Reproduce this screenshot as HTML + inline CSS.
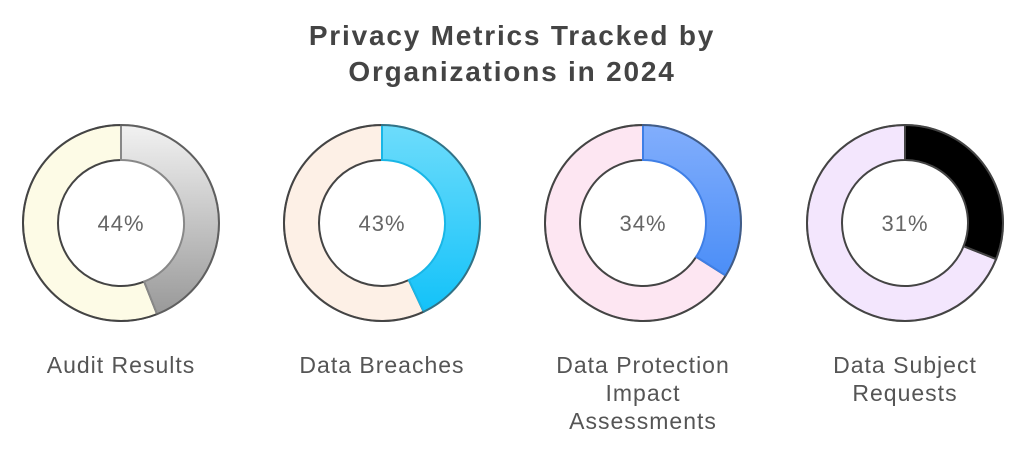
<!DOCTYPE html>
<html><head><style>
body{margin:0;width:1024px;height:453px;background:#fff;overflow:hidden;font-family:"Liberation Sans",sans-serif}
</style></head><body>
<svg id="s" width="1024" height="453" xmlns="http://www.w3.org/2000/svg">
<defs>
<linearGradient id="g0" x1="0" y1="0" x2="0" y2="1"><stop offset="0" stop-color="#f2f2f2"/><stop offset="1" stop-color="#999"/></linearGradient>
<linearGradient id="g1" x1="0" y1="0" x2="0" y2="1"><stop offset="0" stop-color="#6ddcfb"/><stop offset="1" stop-color="#13c2f9"/></linearGradient>
<linearGradient id="g2" x1="0" y1="0" x2="0" y2="1"><stop offset="0" stop-color="#82aefc"/><stop offset="1" stop-color="#4b8ef7"/></linearGradient>
<linearGradient id="g3" x1="0" y1="0" x2="0" y2="1"><stop offset="0" stop-color="#000"/><stop offset="1" stop-color="#000"/></linearGradient>
</defs>
<g font-size="28" font-weight="bold" fill="#444" text-anchor="middle" letter-spacing="1.8">
<text x="512" y="45">Privacy Metrics Tracked by</text>
<text x="512" y="81">Organizations in 2024</text>
</g>
<g id="c"></g>
<g font-size="23" fill="#555" text-anchor="middle" letter-spacing="1">
<text x="121" y="373">Audit Results</text>
<text x="382" y="373">Data Breaches</text>
<text x="643" y="373">Data Protection</text>
<text x="643" y="401">Impact</text>
<text x="643" y="429">Assessments</text>
<text x="905" y="373">Data Subject</text>
<text x="905" y="401">Requests</text>
</g>
<g font-size="22" fill="#666" text-anchor="middle" letter-spacing="1">
<text x="121" y="231">44%</text>
<text x="382" y="231">43%</text>
<text x="643" y="231">34%</text>
<text x="905" y="231">31%</text>
</g>
</svg>
<script>
var d=[[121,44,"#fdfbe6","url(#g0)","#888"],[382,43,"#fdf0e6","url(#g1)","#19b6e6"],[643,34,"#fde6f2","url(#g2)","#3f7fe6"],[905,31,"#f3e6fd","url(#g3)","#444"]];
var cy=223,R=98,r=63,h="";
function p(cx,a,rad){return [cx+rad*Math.sin(a),cy-rad*Math.cos(a)];}
function seg(cx,a0,a1,fill,st){var l=(a1-a0)>Math.PI?1:0;var A=p(cx,a0,R),B=p(cx,a1,R),C=p(cx,a1,r),D=p(cx,a0,r);
return '<path d="M'+A+' A'+R+','+R+' 0 '+l+' 1 '+B+' L'+C+' A'+r+','+r+' 0 '+l+' 0 '+D+' Z" fill="'+fill+'" stroke="'+st+'" stroke-width="2"/>';}
d.forEach(function(e){var a=e[1]/100*2*Math.PI;h+=seg(e[0],a,2*Math.PI-1e-6,e[2],"#444");h+=seg(e[0],0,a,e[3],e[4]);
h+='<circle cx="'+e[0]+'" cy="'+cy+'" r="'+R+'" fill="none" stroke="#444" stroke-width="2" opacity="0.6"/>';});
document.getElementById("c").innerHTML=h;
</script>
</body></html>
